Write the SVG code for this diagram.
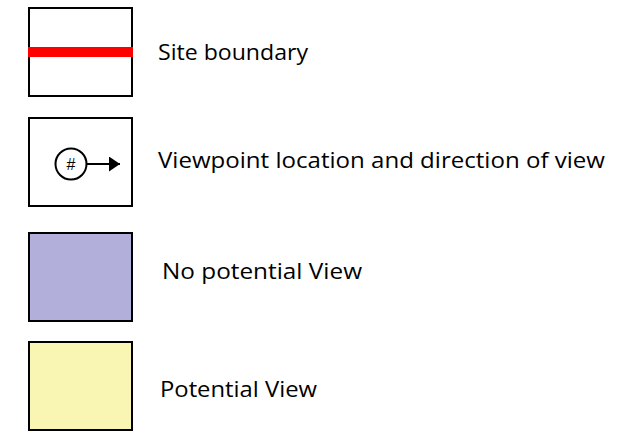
<svg xmlns="http://www.w3.org/2000/svg" width="632" height="433" viewBox="0 0 632 433">
  <style>
    .box { stroke: #000; stroke-width: 2; }
    .label { font-family: "Open Sans", "Liberation Sans", sans-serif; font-size: 21px; fill: #000; }
  </style>
  <defs>
    <marker id="arrow" viewBox="0 0 11 15" refX="11" refY="7.5" markerWidth="11" markerHeight="15" markerUnits="userSpaceOnUse" orient="auto">
      <path d="M0,0 L11,7.5 L0,15 Z" fill="#000"/>
    </marker>
  </defs>

  <!-- Site boundary -->
  <g id="site-boundary">
    <rect class="box" x="29" y="8" width="103" height="88" fill="#fff"/>
    <rect x="28" y="47" width="105" height="10" fill="#ff0000"/>
    <text class="label" x="158" y="60" textLength="150" lengthAdjust="spacingAndGlyphs">Site boundary</text>
  </g>

  <!-- Viewpoint symbol -->
  <g id="viewpoint">
    <rect class="box" x="29" y="118" width="103" height="88" fill="#fff"/>
    <circle cx="71" cy="164" r="15.5" fill="#fff" stroke="#000" stroke-width="2"/>
    <text x="71" y="170" text-anchor="middle" font-family="'Liberation Sans', sans-serif" font-size="16">#</text>
    <g id="connectors">
      <line x1="86.5" y1="164" x2="120" y2="164" stroke="#000" stroke-width="2" marker-end="url(#arrow)"/>
    </g>
    <text class="label" x="158" y="168" textLength="447" lengthAdjust="spacingAndGlyphs">Viewpoint location and direction of view</text>
  </g>

  <!-- No potential view -->
  <g id="no-potential-view">
    <rect class="box" x="29" y="233" width="103" height="88" fill="#b2b0da"/>
    <text class="label" x="162" y="279" textLength="200" lengthAdjust="spacingAndGlyphs">No potential View</text>
  </g>

  <!-- Potential view -->
  <g id="potential-view">
    <rect class="box" x="29" y="342" width="103" height="88" fill="#f8f6b2"/>
    <text class="label" x="160" y="397" textLength="157" lengthAdjust="spacingAndGlyphs">Potential View</text>
  </g>
</svg>
